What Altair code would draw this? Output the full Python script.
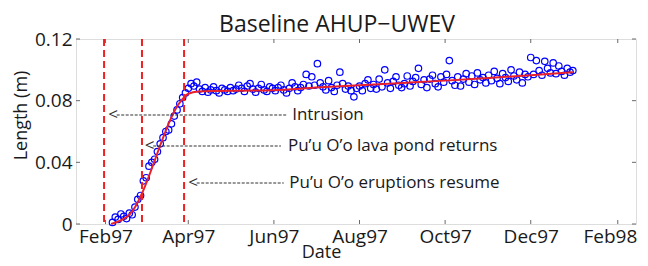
import altair as alt
import pandas as pd

TITLE = "Baseline AHUP\u2212UWEV"
X_TITLE = "Date"
Y_TITLE = "Length (m)"

# GPS baseline length observations, one every 2 days from 1997-02-06 (mm)
obs_start = "1997-02-06"
obs_step = "2D"
length_mm = [
    # Feb
    1.0, 4.5, 3.0, 6.5, 5.0, 3.5, 7.0, 6.0, 11.0, 16.0, 18.5, 28.0,
    # Mar
    30.0, 37.5, 40.0, 42.0, 47.0, 52.0, 56.0, 60.0, 61.0, 65.0, 70.0, 74.0, 78.0, 82.0, 85.0,
    # Apr
    88.0, 91.0, 89.5, 92.0, 87.5, 86.0, 88.5, 85.5, 87.0, 89.0, 86.5, 85.0, 88.0, 87.0, 86.0,
    # May
    88.5, 86.5, 87.5, 90.0, 88.0, 86.0, 89.5, 91.0, 87.5, 85.5, 88.0, 90.5, 87.0, 86.0, 89.0, 88.0,
    # Jun
    86.5, 88.5, 90.0, 87.0, 85.0, 88.0, 91.5, 89.0, 86.5, 88.5, 90.5, 97.0, 89.5, 95.5, 90.0,
    # Jul
    104.0, 91.5, 89.0, 87.0, 93.0, 88.5, 86.0, 90.0, 98.5, 91.0, 87.5, 89.5, 86.5, 82.5, 88.0,
    # Aug
    89.5, 86.5, 91.0, 93.5, 88.0, 90.5, 87.5, 94.0, 89.0, 100.0, 91.5, 88.0, 92.5, 95.5, 90.0, 88.5,
    # Sep
    91.0, 96.0, 89.5, 92.5, 95.0, 101.0, 90.5, 93.5, 88.5, 94.0, 96.5, 91.0, 89.0, 95.5, 92.0,
    # Oct
    97.0, 106.0, 93.0, 90.0, 95.5, 89.5, 94.0, 97.5, 92.0, 96.0, 90.5, 98.0, 93.5, 95.0, 91.5,
    # Nov
    96.5, 93.0, 99.0, 94.5, 91.0, 97.5, 95.0, 92.5, 100.0, 96.0, 93.5, 98.5, 91.5, 97.0, 95.5,
    # Dec
    108.0, 97.0, 106.0, 99.5, 96.5, 105.5, 101.0, 98.0, 104.5, 97.5, 102.5, 99.0, 96.5, 101.0, 98.5, 99.5,
]

# model fit (red curve)
fit_dates = ["1997-02-05", "1997-02-18", "1997-03-27", "1997-04-01", "1997-04-08",
             "1997-06-01", "1997-07-01", "1997-08-01", "1997-09-01", "1997-10-01",
             "1997-11-01", "1997-12-01", "1997-12-31"]
fit_mm = [0.0, 6.0, 80.0, 84.5, 86.0, 86.8, 88.5, 90.0, 91.5, 93.0, 94.7, 96.5, 98.5]

# event markers (red dashed verticals)
event_dates = ["1997-01-31", "1997-02-27", "1997-03-29"]

# annotations
ann_labels = ["Intrusion", "Pu\u2019u O\u2019o lava pond returns", "Pu\u2019u O\u2019o eruptions resume"]
ann_y = [0.0707, 0.0506, 0.0266]
ann_arrow_dates = ["1997-02-03", "1997-03-01", "1997-04-01"]
ann_dash_start = ["1997-02-09", "1997-03-07", "1997-04-07"]
ann_dash_end = ["1997-06-10", "1997-06-06", "1997-06-08"]
ann_text_dates = ["1997-06-14", "1997-06-11", "1997-06-12"]

x_tick_dates = ["1997-02-01", "1997-04-01", "1997-06-01", "1997-08-01",
                "1997-10-01", "1997-12-01", "1998-02-01"]
y_ticks = [0, 0.04, 0.08, 0.12]
x_domain = ["1997-01-11", "1998-02-14"]
y_domain = [0, 0.12]

FONT = "Open Sans"
TXT = "#1a1a1a"
AX = "#6a6a6a"

W, H = 560, 185


def dt(s):
    t = pd.Timestamp(s)
    return alt.DateTime(year=t.year, month=t.month, date=t.day, utc=True)


obs = pd.DataFrame({
    "date": pd.date_range(obs_start, periods=len(length_mm), freq=obs_step).strftime("%Y-%m-%d"),
    "length": [v / 1000 for v in length_mm],
})
fit = pd.DataFrame({"date": fit_dates, "length": [v / 1000 for v in fit_mm]})
events = pd.DataFrame({"date": event_dates})
ann = pd.DataFrame({
    "label": ann_labels, "length": ann_y, "arrow": ann_arrow_dates,
    "d0": ann_dash_start, "d1": ann_dash_end, "tx": ann_text_dates,
})
xt = pd.DataFrame({"date": x_tick_dates})
yt = pd.DataFrame({"length": y_ticks})
ttl = pd.DataFrame({"t": [TITLE]})

x_scale = alt.Scale(type="utc", domain=[dt(d) for d in x_domain], nice=False)
y_scale = alt.Scale(domain=y_domain, nice=False, zero=False)

x_axis = alt.Axis(
    title=X_TITLE, values=[dt(d) for d in x_tick_dates], format="%b%y",
    grid=False, ticks=False, domain=False, labelFontSize=19, labelColor=TXT,
    labelPadding=3, labelFlush=20, labelFlushOffset=19,
    titleFontSize=18, titleColor=TXT, titleFontWeight="normal",
    titleX=245, titleY=33, titleBaseline="alphabetic", labelFont=FONT, titleFont=FONT,
)
y_axis = alt.Axis(
    title=Y_TITLE, values=y_ticks, format=".2~f", grid=False, ticks=False,
    domain=False, labelFontSize=19, labelColor=TXT, labelPadding=4,
    titleFontSize=18, titleColor=TXT, titleFontWeight="normal",
    titleX=-50, titleY=76, titleBaseline="alphabetic", labelFont=FONT, titleFont=FONT,
)


def X(field="date"):
    return alt.X(f"{field}:T", scale=x_scale, axis=x_axis)


def Y(field="length"):
    return alt.Y(f"{field}:Q", scale=y_scale, axis=y_axis)


points = alt.Chart(obs).mark_point(
    shape="circle", filled=False, color="#0000ff", size=42, strokeWidth=1.2, opacity=1
).encode(x=X(), y=Y())

fit_line = alt.Chart(fit).mark_line(
    color="#e8202a", strokeWidth=2, interpolate="monotone"
).encode(x=X(), y=Y())

vlines = alt.Chart(events).mark_rule(
    color="#ee2222", strokeWidth=2, strokeDash=[7, 4]
).encode(x=X())

arrows = alt.Chart(ann).mark_text(
    text="<", align="left", baseline="middle", font=FONT, fontSize=17, color="#333333"
).encode(x=X("arrow"), y=Y())

dashes = alt.Chart(ann).mark_rule(
    color="#333333", strokeWidth=1.2, strokeDash=[3, 1.5]
).encode(x=X("d0"), x2="d1:T", y=Y())

labels = alt.Chart(ann).mark_text(
    align="left", baseline="middle", font=FONT, fontSize=17, color=TXT
).encode(x=X("tx"), y=Y(), text="label:N")

title_mark = alt.Chart(ttl).mark_text(
    align="center", baseline="alphabetic", font=FONT, fontSize=23, color=TXT
).encode(x=alt.value(261), y=alt.value(-7), text="t:N")

xt_bottom = alt.Chart(xt).mark_rule(color=AX, strokeWidth=1).encode(
    x=X(), y=alt.value(H), y2=alt.value(H - 4))
xt_top = alt.Chart(xt).mark_rule(color=AX, strokeWidth=1).encode(
    x=X(), y=alt.value(0), y2=alt.value(4))
yt_left = alt.Chart(yt).mark_rule(color=AX, strokeWidth=1).encode(
    y=Y(), x=alt.value(0), x2=alt.value(4))
yt_right = alt.Chart(yt).mark_rule(color=AX, strokeWidth=1).encode(
    y=Y(), x=alt.value(W), x2=alt.value(W - 4))

chart = alt.layer(
    points, fit_line, vlines, arrows, dashes, labels, title_mark,
    xt_bottom, xt_top, yt_left, yt_right,
).properties(
    width=W, height=H,
    padding={"left": 68, "top": 31, "right": 4, "bottom": 34},
    autosize=alt.AutoSizeParams(type="none"),
).configure_view(
    stroke=AX, strokeWidth=1.5
).configure(
    font=FONT, background="white"
)

chart.save("out.html", embed_options={"renderer": "svg", "actions": False})
